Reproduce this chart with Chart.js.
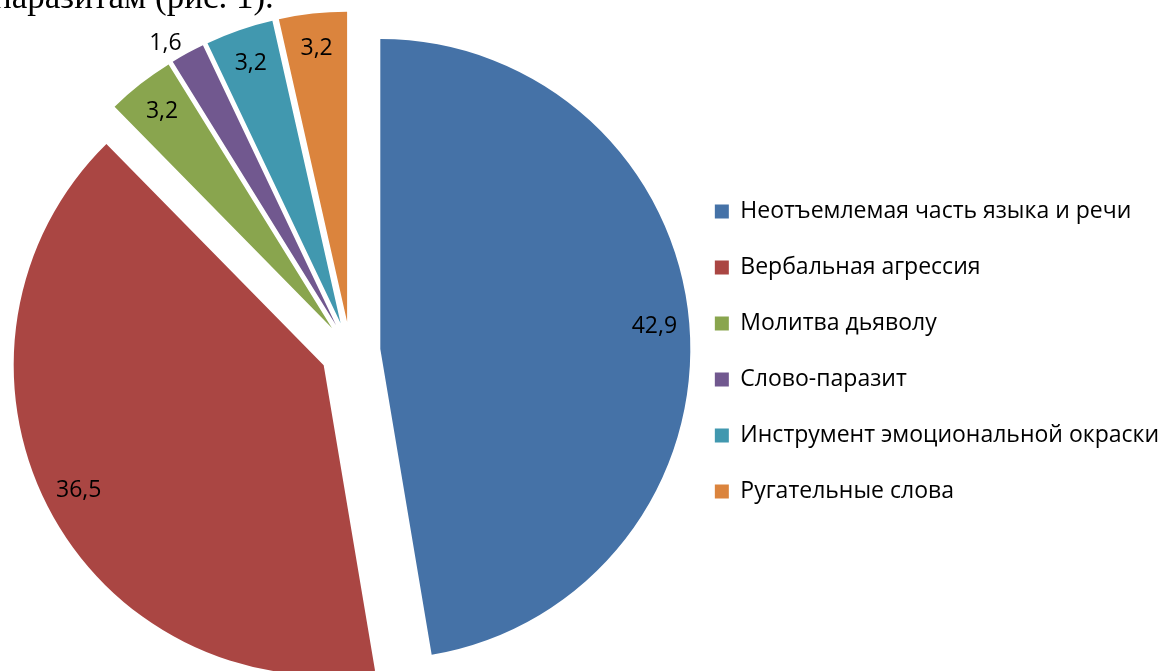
<!DOCTYPE html>
<html lang="ru">
<head>
<meta charset="utf-8">
<title>Диаграмма</title>
<script src="https://cdn.jsdelivr.net/npm/chart.js@4/dist/chart.umd.min.js"></script>
<style>
  html, body { margin: 0; padding: 0; background: #fff; overflow: hidden; }
  #wrap { position: relative; width: 1164px; height: 671px; }
  #textoAcima {
    position: absolute; left: -7px; top: -21px;
    font-family: "Liberation Serif", "Times New Roman", serif;
    font-size: 35px; line-height: 35px; color: #000; white-space: nowrap;
  }
  #grafico { position: absolute; left: 0; top: 0; }
</style>
</head>
<body>
<div id="wrap">
  <canvas id="grafico" width="1164" height="671"></canvas>
  <div id="textoAcima">паразитам (рис. 1).</div>
</div>
<script>
// dados
const categorias = [
  'Неотъемлемая часть языка и речи',
  'Вербальная агрессия',
  'Молитва дьяволу',
  'Слово-паразит',
  'Инструмент эмоциональной окраски',
  'Ругательные слова'
];
const valores = [42.9, 36.5, 3.2, 1.6, 3.2, 3.2];
const cores = ['#4572A7', '#AA4643', '#89A54E', '#71588F', '#4198AF', '#DB843D'];

const FONTE = '"Open Sans", "Noto Sans", sans-serif';
const EXPLOSAO = 30; // deslocamento de cada setor, em px

// afasta cada setor do centro sem mudar o raio (o "offset" do Chart.js aumenta o raio)
const explodir = {
  id: 'explodir',
  afterDatasetUpdate(chart, args) {
    chart.getDatasetMeta(args.index).data.forEach(arc => {
      if (arc._explodido) return;
      arc._explodido = true;
      const desenhar = arc.draw;
      arc.draw = function (ctx) {
        const meio = (this.startAngle + this.endAngle) / 2;
        ctx.save();
        ctx.translate(Math.cos(meio) * EXPLOSAO, Math.sin(meio) * EXPLOSAO);
        desenhar.call(this, ctx);
        ctx.restore();
      };
    });
  }
};

// rótulos de valor: dentro, perto da borda; fora (encostado no arco) se o setor for estreito
const rotulos = {
  id: 'rotulos',
  afterDatasetsDraw(chart) {
    const ctx = chart.ctx;
    const meta = chart.getDatasetMeta(0);
    ctx.save();
    ctx.font = '23px ' + FONTE;
    ctx.fillStyle = '#000';
    ctx.textAlign = 'center';
    ctx.textBaseline = 'middle';
    meta.data.forEach((arc, i) => {
      const p = arc.getProps(['x', 'y', 'startAngle', 'endAngle', 'outerRadius'], true);
      const meio = (p.startAngle + p.endAngle) / 2;
      const cx = Math.cos(meio), cy = Math.sin(meio);
      const txt = valores[i].toFixed(1).replace('.', ',');
      let x, y;
      if ((p.endAngle - p.startAngle) < 0.15) {
        const d = EXPLOSAO + p.outerRadius;
        const w = ctx.measureText(txt).width;
        x = p.x + cx * d + Math.sign(cx) * (w / 2 + 6);
        y = p.y + cy * d + Math.sign(cy) * 10;
      } else {
        const d = EXPLOSAO + p.outerRadius - 35;
        x = p.x + cx * d;
        y = p.y + cy * d;
      }
      ctx.fillText(txt, x, y);
    });
    ctx.restore();
  }
};

Chart.defaults.color = '#000';
Chart.defaults.font.family = FONTE;

new Chart(document.getElementById('grafico'), {
  type: 'pie',
  data: {
    labels: categorias,
    datasets: [{
      data: valores,
      backgroundColor: cores,
      borderWidth: 0,
      radius: 310,
      clip: false
    }]
  },
  options: {
    responsive: false,
    animation: false,
    events: [],
    layout: { padding: { top: 32, left: 19, right: -5, bottom: 0 } },
    plugins: {
      tooltip: { enabled: false },
      legend: {
        position: 'right',
        labels: {
          boxWidth: 14,
          boxHeight: 14,
          padding: 33,
          font: { size: 23, family: FONTE }
        }
      }
    }
  },
  plugins: [explodir, rotulos]
});
</script>
</body>
</html>
